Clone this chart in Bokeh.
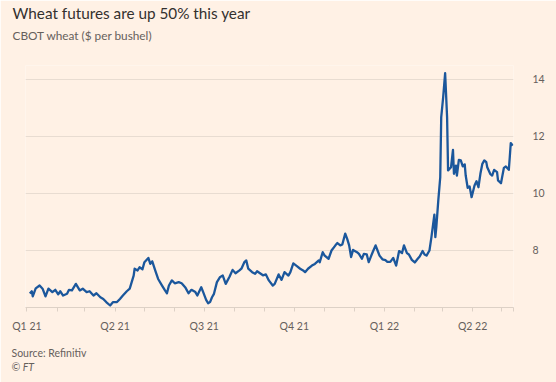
import pandas as pd
from bokeh.plotting import figure
from bokeh.models import Title, FixedTicker, Range1d, ColumnDataSource, LinearAxis
from bokeh.embed import file_html
from bokeh.resources import INLINE

# ---- data (CBOT wheat, $ per bushel) ----
dates = [
    "2021-01-04", "2021-01-06", "2021-01-07", "2021-01-10", "2021-01-14", "2021-01-17",
    "2021-01-20", "2021-01-23", "2021-01-27", "2021-01-30", "2021-02-02", "2021-02-04",
    "2021-02-07", "2021-02-11", "2021-02-13", "2021-02-16", "2021-02-20", "2021-02-24",
    "2021-02-27", "2021-03-03", "2021-03-06", "2021-03-10", "2021-03-13", "2021-03-17",
    "2021-03-20", "2021-03-23", "2021-03-27", "2021-03-30", "2021-04-03", "2021-04-06",
    "2021-04-09", "2021-04-13", "2021-04-16", "2021-04-20", "2021-04-21", "2021-04-24",
    "2021-04-26", "2021-04-29", "2021-05-01", "2021-05-05", "2021-05-07", "2021-05-09",
    "2021-05-12", "2021-05-15", "2021-05-19", "2021-05-22", "2021-05-24", "2021-05-26",
    "2021-05-29", "2021-06-01", "2021-06-05", "2021-06-08", "2021-06-12", "2021-06-15",
    "2021-06-18", "2021-06-22", "2021-06-24", "2021-06-28", "2021-06-30", "2021-07-03",
    "2021-07-05", "2021-07-07", "2021-07-09", "2021-07-11", "2021-07-14", "2021-07-17",
    "2021-07-20", "2021-07-23", "2021-07-27", "2021-07-30", "2021-08-02", "2021-08-06",
    "2021-08-08", "2021-08-11", "2021-08-13", "2021-08-15", "2021-08-19", "2021-08-22",
    "2021-08-24", "2021-08-27", "2021-08-30", "2021-09-02", "2021-09-05", "2021-09-09",
    "2021-09-11", "2021-09-15", "2021-09-18", "2021-09-21", "2021-09-25", "2021-09-27",
    "2021-09-30", "2021-10-03", "2021-10-07", "2021-10-10", "2021-10-12", "2021-10-15",
    "2021-10-19", "2021-10-22", "2021-10-26", "2021-10-27", "2021-10-30", "2021-11-01",
    "2021-11-05", "2021-11-08", "2021-11-12", "2021-11-14", "2021-11-17", "2021-11-19",
    "2021-11-22", "2021-11-24", "2021-11-26", "2021-11-28", "2021-11-30", "2021-12-04",
    "2021-12-06", "2021-12-09", "2021-12-11", "2021-12-14", "2021-12-16", "2021-12-18",
    "2021-12-20", "2021-12-23", "2021-12-25", "2021-12-27", "2021-12-30", "2022-01-02",
    "2022-01-04", "2022-01-07", "2022-01-10", "2022-01-13", "2022-01-16", "2022-01-19",
    "2022-01-21", "2022-01-24", "2022-01-26", "2022-01-29", "2022-02-01", "2022-02-04",
    "2022-02-06", "2022-02-09", "2022-02-11", "2022-02-13", "2022-02-16", "2022-02-18",
    "2022-02-21", "2022-02-22", "2022-02-23", "2022-02-25", "2022-02-27", "2022-02-28",
    "2022-03-02", "2022-03-04", "2022-03-06", "2022-03-07", "2022-03-10", "2022-03-12",
    "2022-03-13", "2022-03-15", "2022-03-16", "2022-03-18", "2022-03-20", "2022-03-22",
    "2022-03-24", "2022-03-25", "2022-03-27", "2022-03-29", "2022-03-31", "2022-04-03",
    "2022-04-05", "2022-04-07", "2022-04-09", "2022-04-11", "2022-04-13", "2022-04-15",
    "2022-04-16", "2022-04-19", "2022-04-21", "2022-04-23", "2022-04-26", "2022-04-27",
    "2022-04-30", "2022-05-03", "2022-05-05", "2022-05-08", "2022-05-09", "2022-05-10",
    "2022-05-12",
]
prices = [
    6.49, 6.57, 6.39, 6.67, 6.77, 6.66,
    6.39, 6.66, 6.54, 6.62, 6.46, 6.57,
    6.42, 6.48, 6.62, 6.60, 6.83, 6.60,
    6.66, 6.54, 6.57, 6.42, 6.50, 6.36,
    6.30, 6.19, 6.07, 6.19, 6.19, 6.30,
    6.42, 6.57, 6.66, 7.12, 7.36, 7.30,
    7.41, 7.34, 7.59, 7.74, 7.53, 7.62,
    7.30, 7.00, 6.77, 6.60, 6.50, 6.77,
    6.95, 6.85, 6.89, 6.85, 6.69, 6.50,
    6.62, 6.54, 6.42, 6.71, 6.54, 6.27,
    6.15, 6.19, 6.36, 6.48, 6.89, 7.06,
    7.12, 6.83, 7.09, 7.32, 7.20, 7.30,
    7.36, 7.59, 7.65, 7.36, 7.24, 7.18,
    7.27, 7.20, 7.13, 7.16, 6.95, 6.77,
    6.83, 7.16, 6.97, 7.24, 7.12, 7.24,
    7.55, 7.47, 7.36, 7.30, 7.24, 7.36,
    7.47, 7.53, 7.65, 7.59, 7.94, 7.82,
    7.71, 8.00, 8.18, 8.26, 8.18, 8.21,
    8.59, 8.41, 8.18, 7.77, 8.02, 7.94,
    7.88, 7.71, 7.88, 7.86, 7.59, 7.77,
    7.94, 8.18, 8.00, 7.82, 7.69, 7.66,
    7.60, 7.60, 7.74, 7.47, 7.98, 7.91,
    8.18, 7.91, 7.86, 7.67, 7.58, 7.71,
    7.79, 7.98, 7.86, 7.82, 8.00, 8.47,
    9.26, 8.47, 8.82, 9.75, 10.57, 12.67,
    13.38, 14.22, 12.67, 10.81, 10.92, 11.53,
    10.69, 10.98, 10.63, 11.18, 11.16, 10.95,
    11.02, 10.63, 10.20, 10.25, 9.87, 10.28,
    10.43, 10.22, 10.69, 11.04, 11.16, 11.10,
    10.92, 10.69, 10.63, 10.83, 10.75, 10.46,
    10.36, 10.90, 10.95, 10.83, 11.28, 11.77,
    11.68,
]

quarter_ticks = ["2021-01-01", "2021-04-01", "2021-07-01", "2021-10-01", "2022-01-01", "2022-04-01"]
quarter_labels = ["Q1 21", "Q2 21", "Q3 21", "Q4 21", "Q1 22", "Q2 22"]
month_ticks = ["2021-02-01", "2021-03-01", "2021-05-01", "2021-06-01", "2021-08-01",
               "2021-09-01", "2021-11-01", "2021-12-01", "2022-02-01", "2022-03-01",
               "2022-05-01", "2022-05-12T18:00"]
y_ticks = [8, 10, 12, 14]

x_start, x_end = "2020-12-30T14:00", "2022-05-12T19:00"
y_start, y_end = 6, 14.49


def to_ms(values):
    ts = pd.to_datetime(pd.Series(values), format="ISO8601")
    return [float(v) for v in (ts - pd.Timestamp("1970-01-01")) // pd.Timedelta("1ms")]


BG = "#FFF1E5"
INK = "#33302E"
GREY = "#66605C"
RULE = "#DDD1C6"

x_ms = to_ms(dates)
q_ms = to_ms(quarter_ticks)
m_ms = to_ms(month_ticks)
xr = to_ms([x_start, x_end])

p = figure(
    frame_width=488, frame_height=242,
    x_axis_type="datetime", y_axis_location="right",
    x_range=Range1d(xr[0], xr[1]), y_range=Range1d(y_start, y_end),
    output_backend="svg", toolbar_location=None,
    background_fill_color=BG, border_fill_color=BG,
    min_border_left=25, min_border_right=43, min_border_top=65, min_border_bottom=75,
)
p.outline_line_color = None

src = ColumnDataSource(dict(x=x_ms, y=prices))
p.line("x", "y", source=src, line_color="#1B579C", line_width=2.3, line_join="round")

# x axis
xa = p.xaxis[0]
xa.ticker = FixedTicker(ticks=q_ms, minor_ticks=m_ms)
xa.major_label_overrides = {t: lab for t, lab in zip(q_ms, quarter_labels)}
xa.axis_line_color = RULE
xa.major_tick_line_color = RULE
xa.minor_tick_line_color = RULE
xa.major_tick_in = 0
xa.major_tick_out = 4
xa.minor_tick_in = 0
xa.minor_tick_out = 4
xa.major_label_standoff = 8
xa.major_label_text_color = GREY
xa.major_label_text_font = "Lato"
xa.major_label_text_font_size = "10.5px"

# y axis (right)
ya = p.yaxis[0]
ya.ticker = FixedTicker(ticks=y_ticks)
ya.axis_line_color = None
ya.major_tick_line_color = None
ya.minor_tick_line_color = None
ya.major_tick_out = 0
ya.major_label_text_align = "right"
ya.major_label_standoff = 19
ya.major_label_text_color = GREY
ya.major_label_text_font = "Lato"
ya.major_label_text_font_size = "10.5px"

p.xgrid.grid_line_color = None
p.ygrid.grid_line_color = "#E8DCD1"
p.ygrid.ticker = FixedTicker(ticks=y_ticks)

mid_x = (xr[0] + xr[1]) / 2


def spacer(size):
    # an axis drawn in the background colour, used only as white space between panels
    return LinearAxis(ticker=FixedTicker(ticks=[mid_x]), major_label_overrides={mid_x: ""},
                      axis_line_color=None, major_tick_line_color=BG,
                      minor_tick_line_color=None, major_tick_in=0, major_tick_out=size,
                      minor_tick_in=0, minor_tick_out=0, major_label_standoff=0,
                      major_label_text_color=None, major_label_text_font_size="1px")


# top: main title (outermost), subtitle, then a gap down to the frame
p.add_layout(spacer(18), "above")
p.add_layout(Title(text="CBOT wheat ($ per bushel)", align="left", offset=-13, standoff=9,
                   text_font="Lato", text_font_size="11.8px", text_font_style="normal",
                   text_color=GREY), "above")
p.title.text = "Wheat futures are up 50% this year"
p.title.align = "left"
p.title.offset = -13
p.title.standoff = 0
p.title.text_font = "Lato"
p.title.text_font_size = "15.3px"
p.title.text_font_style = "normal"
p.title.text_color = INK

# bottom: gap under the axis, then source and copyright
p.add_layout(spacer(10), "below")
p.add_layout(Title(text="Source: Refinitiv", align="left", offset=-14, standoff=0,
                   text_font="Lato", text_font_size="10.5px", text_font_style="normal",
                   text_color=GREY), "below")
p.add_layout(Title(text="© FT", align="left", offset=-14, standoff=0,
                   text_font="Lato", text_font_size="10.5px", text_font_style="italic",
                   text_color=GREY), "below")

open("out.html", "w").write(file_html(p, INLINE))
